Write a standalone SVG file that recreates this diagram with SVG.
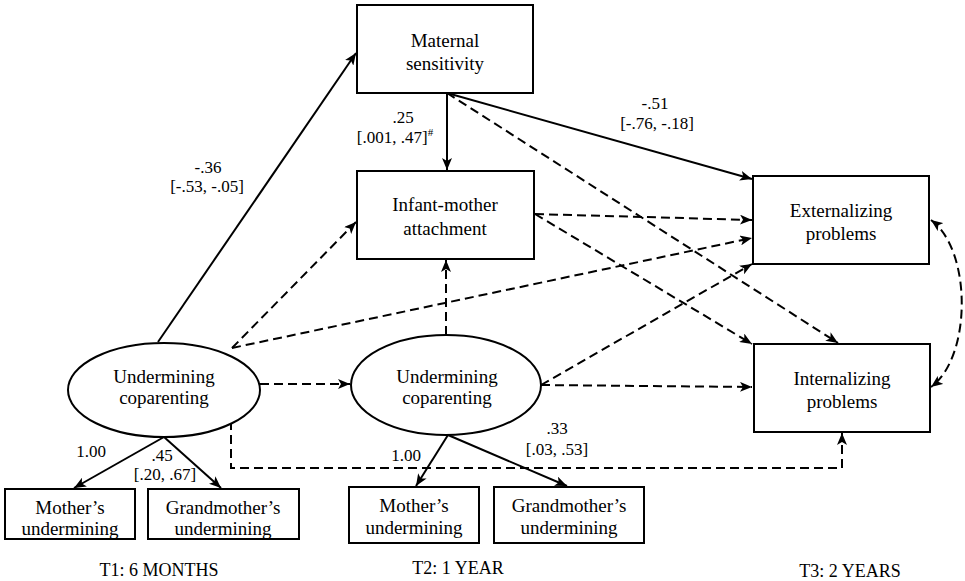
<svg xmlns="http://www.w3.org/2000/svg" width="965" height="581" viewBox="0 0 965 581">
<style>
text{font-family:"Liberation Serif","DejaVu Serif",serif;text-anchor:middle;fill:#000}
.box{fill:#fff;stroke:#000;stroke-width:2}
.lbl{font-size:19px}
.num{font-size:17px}
.tl{font-size:18px}
.s{fill:none;stroke:#000;stroke-width:2;marker-end:url(#ah)}
.d{fill:none;stroke:#000;stroke-width:2;stroke-dasharray:9,5;marker-end:url(#ah)}
</style>
<defs>
<marker id="ah" viewBox="0 0 12 10" refX="12" refY="5" markerWidth="12" markerHeight="10" orient="auto-start-reverse" markerUnits="userSpaceOnUse">
<path d="M0,0 L12,5 L0,10 L3,5 z" fill="#000"/>
</marker>
</defs>
<rect width="965" height="581" fill="#fff"/>
<g id="connectors">
<line class="s" x1="158" y1="342" x2="356" y2="53"/>
<line class="s" x1="447" y1="93" x2="447" y2="170"/>
<line class="s" x1="447" y1="93" x2="752" y2="179"/>
<line class="d" x1="447" y1="93" x2="838" y2="343"/>
<line class="d" x1="232" y1="348" x2="356" y2="222"/>
<line class="d" x1="232" y1="348" x2="752" y2="238"/>
<line class="d" x1="535" y1="214" x2="752" y2="220"/>
<line class="d" x1="535" y1="214" x2="752" y2="344"/>
<line class="d" x1="260" y1="384" x2="350" y2="384"/>
<line class="d" x1="446" y1="335" x2="446" y2="260"/>
<line class="d" x1="541" y1="385" x2="752" y2="264"/>
<line class="d" x1="541" y1="385" x2="752" y2="387"/>
<path class="d" d="M231,421 V468 H842 V433"/>
<path class="d" d="M931,220 C972,250 972,357 931,387" style="marker-start:url(#ah)"/>
<line class="s" x1="164" y1="437" x2="74" y2="488"/>
<line class="s" x1="164" y1="437" x2="221" y2="488"/>
<line class="s" x1="448" y1="435" x2="416" y2="486"/>
<line class="s" x1="448" y1="435" x2="567" y2="486"/>
</g>
<g id="maternal">
<rect class="box" x="357" y="5" width="176" height="88"/>
<text class="lbl" x="445" y="47">Maternal</text>
<text class="lbl" x="445" y="70">sensitivity</text>
</g>
<g id="infant">
<rect class="box" x="357" y="171" width="177" height="88"/>
<text class="lbl" x="445" y="211">Infant-mother</text>
<text class="lbl" x="445" y="235">attachment</text>
</g>
<g id="externalizing">
<rect class="box" x="753" y="176" width="176" height="88"/>
<text class="lbl" x="841" y="217">Externalizing</text>
<text class="lbl" x="841" y="240">problems</text>
</g>
<g id="internalizing">
<rect class="box" x="754" y="344" width="176" height="88"/>
<text class="lbl" x="842" y="385">Internalizing</text>
<text class="lbl" x="842" y="408">problems</text>
</g>
<g id="coparenting1">
<ellipse class="box" cx="164" cy="390" rx="96" ry="47"/>
<text class="lbl" x="164" y="383">Undermining</text>
<text class="lbl" x="164" y="404">coparenting</text>
</g>
<g id="coparenting2">
<ellipse class="box" cx="446" cy="385" rx="95" ry="50"/>
<text class="lbl" x="447" y="383">Undermining</text>
<text class="lbl" x="447" y="404">coparenting</text>
</g>
<g id="mother1">
<rect class="box" x="5" y="489" width="130" height="50"/>
<text class="lbl" x="70" y="514">Mother’s</text>
<text class="lbl" x="70" y="535">undermining</text>
</g>
<g id="grandmother1">
<rect class="box" x="148" y="489" width="151" height="50"/>
<text class="lbl" x="223" y="514">Grandmother’s</text>
<text class="lbl" x="223" y="535">undermining</text>
</g>
<g id="mother2">
<rect class="box" x="349" y="487" width="130" height="56"/>
<text class="lbl" x="414" y="512">Mother’s</text>
<text class="lbl" x="414" y="534">undermining</text>
</g>
<g id="grandmother2">
<rect class="box" x="494" y="487" width="150" height="56"/>
<text class="lbl" x="569" y="512">Grandmother’s</text>
<text class="lbl" x="569" y="534">undermining</text>
</g>
<g id="labels">
<text class="num" x="208" y="173">-.36</text>
<text class="num" x="207" y="192">[-.53, -.05]</text>
<text class="num" x="403" y="123">.25</text>
<text class="num" x="395" y="143">[.001, .47]<tspan font-size="11" dy="-7">#</tspan></text>
<text class="num" x="655" y="109">-.51</text>
<text class="num" x="657" y="129">[-.76, -.18]</text>
<text class="num" x="91" y="457">1.00</text>
<text class="num" x="162" y="461">.45</text>
<text class="num" x="165" y="480">[.20, .67]</text>
<text class="num" x="406" y="461">1.00</text>
<text class="num" x="557" y="434">.33</text>
<text class="num" x="557" y="455">[.03, .53]</text>
<text class="tl" x="159" y="576">T1: 6 MONTHS</text>
<text class="tl" x="458" y="574">T2: 1 YEAR</text>
<text class="tl" x="850" y="577">T3: 2 YEARS</text>
</g>
</svg>
